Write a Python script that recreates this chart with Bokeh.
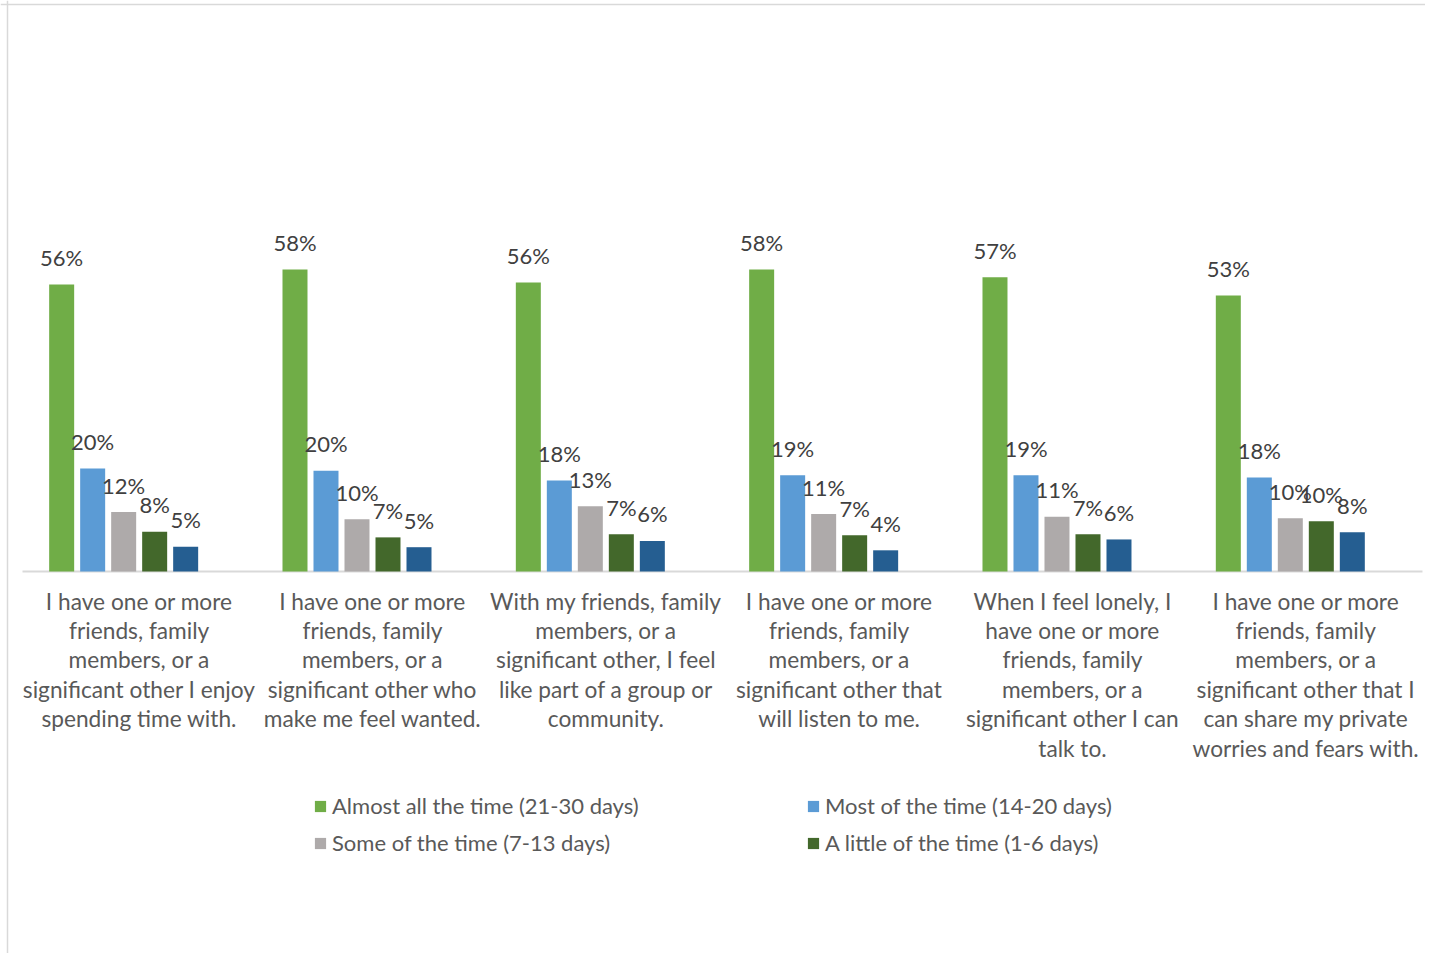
from bokeh.plotting import figure
from bokeh.models import Range1d, Legend, LegendItem, Span, ColumnDataSource
from bokeh.core.properties import value
from bokeh.embed import file_html
from bokeh.resources import INLINE

# ---------------- data ----------------
categories = [
    "I have one or more\nfriends, family\nmembers, or a\nsignificant other I enjoy\nspending time with.",
    "I have one or more\nfriends, family\nmembers, or a\nsignificant other who\nmake me feel wanted.",
    "With my friends, family\nmembers, or a\nsignificant other, I feel\nlike part of a group or\ncommunity.",
    "I have one or more\nfriends, family\nmembers, or a\nsignificant other that\nwill listen to me.",
    "When I feel lonely, I\nhave one or more\nfriends, family\nmembers, or a\nsignificant other I can\ntalk to.",
    "I have one or more\nfriends, family\nmembers, or a\nsignificant other that I\ncan share my private\nworries and fears with.",
]

series_names = [
    "Almost all the time (21-30 days)",
    "Most of the time (14-20 days)",
    "Some of the time (7-13 days)",
    "A little of the time (1-6 days)",
    "None of the time (0 days)",
]

almost_all = [55.5, 58.4, 55.9, 58.4, 56.9, 53.4]
most_time = [19.9, 19.5, 17.6, 18.6, 18.6, 18.2]
some_time = [11.5, 10.1, 12.6, 11.1, 10.6, 10.3]
little_time = [7.7, 6.6, 7.2, 7.0, 7.2, 9.7]
none_time = [4.8, 4.7, 5.9, 4.1, 6.2, 7.6]

series_values = [almost_all, most_time, some_time, little_time, none_time]
series_colors = ["#70AD47", "#5B9BD5", "#AEAAAA", "#43682B", "#255E91"]

# ---------------- layout (pixels) ----------------
W, H = 1425, 953
CAT_PX = 233.33          # width of one category group
LEFT_PX = 22             # gap between frame left and first group
BASE_PX = 571            # baseline distance from frame top
PX_PER_PCT = 5.17
SLOTS = 6
PITCH = 31 / CAT_PX
BAR_W = 25 / CAT_PX

x0 = -LEFT_PX / CAT_PX
x1 = x0 + W / CAT_PX
y1 = BASE_PX / PX_PER_PCT
y0 = y1 - H / PX_PER_PCT

FONT = "Lato"

p = figure(width=W, height=H, x_range=Range1d(x0, x1), y_range=Range1d(y0, y1),
           output_backend="svg", toolbar_location=None, min_border=0,
           background_fill_color="white", border_fill_color="white")
p.xaxis.visible = False
p.yaxis.visible = False
p.xgrid.visible = False
p.ygrid.visible = False
p.outline_line_color = None

centers = [i + 0.5 for i in range(len(categories))]

# baseline (category axis line)
p.segment(x0=[0], y0=[0], x1=[len(categories)], y1=[0], line_color="#D9D9D9", line_width=2)

renderers = []
for j, (vals, col) in enumerate(zip(series_values, series_colors)):
    off = (j - (SLOTS - 1) / 2) * PITCH
    xs = [c + off for c in centers]
    labels = [f"{int(v + 0.5)}%" for v in vals]
    src = ColumnDataSource(dict(x=xs, top=vals, lab=labels))
    r = p.vbar(x="x", top="top", bottom=0, width=BAR_W, source=src,
               fill_color=col, line_color=None)
    renderers.append(r)
    p.text(x="x", y="top", text="lab", source=src, text_align="center",
           text_baseline="alphabetic", y_offset=-27,
           text_font=value(FONT), text_font_size="22px", text_color="#404040")

# category labels
p.text(x=centers, y=[0] * len(categories), text=categories, text_align="center",
       text_baseline="top", y_offset=16, text_line_height=1.09,
       text_font=value(FONT), text_font_size="22.7px", text_color="#595959")

# chart border (left/top)
p.add_layout(Span(location=x0 + 7 / CAT_PX, dimension="height", line_color="#D9D9D9", line_width=1.5))
p.add_layout(Span(location=y1 - 4 / PX_PER_PCT, dimension="width", line_color="#D9D9D9", line_width=1.5))

def make_legend(idx, loc):
    lg = Legend(items=[LegendItem(label=series_names[i], renderers=[renderers[i]]) for i in idx],
                location=loc, orientation="vertical")
    lg.glyph_width = 14
    lg.glyph_height = 14
    lg.label_height = 24
    lg.label_standoff = 5
    lg.spacing = 10
    lg.padding = 0
    lg.margin = 0
    lg.border_line_color = None
    lg.background_fill_alpha = 0
    lg.label_text_font = FONT
    lg.label_text_font_size = "22px"
    lg.label_text_color = "#595959"
    return lg

p.add_layout(make_legend([0, 2], (313, 97)))
p.add_layout(make_legend([1, 3], (806, 97)))

open("out.html", "w").write(file_html(p, INLINE))
